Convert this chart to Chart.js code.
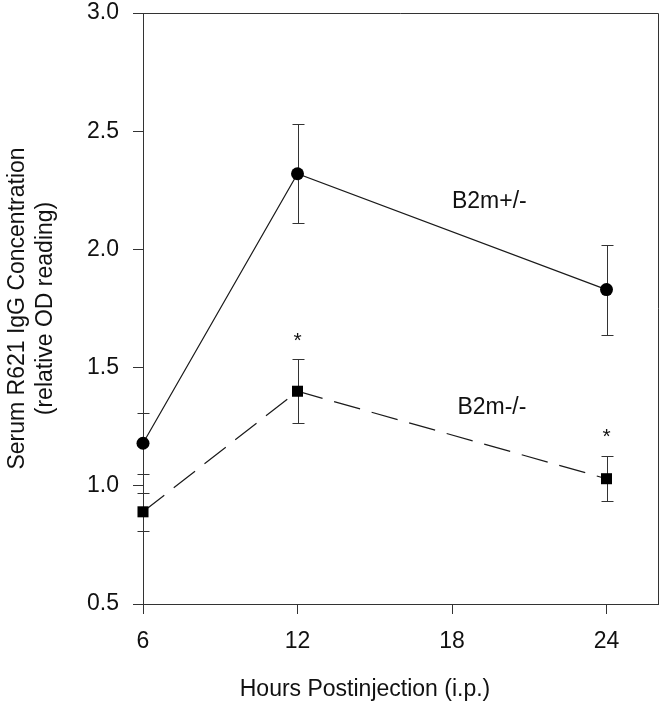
<!DOCTYPE html>
<html>
<head>
<meta charset="utf-8">
<script src="https://cdn.jsdelivr.net/npm/chart.js@4.4.1/dist/chart.umd.min.js"></script>
<style>
  html, body { margin: 0; padding: 0; background: #fff; }
</style>
</head>
<body>
<canvas id="chart" width="666" height="719"></canvas>
<script>
// ── Data ──
const HOURS    = [6, 12, 24];
const HET_MEAN = [1.18, 2.32, 1.83];   // B2m+/-
const HET_ERR  = [0.13, 0.21, 0.19];
const KO_MEAN  = [0.89, 1.40, 1.03];   // B2m-/-
const KO_ERR   = [0.08, 0.135, 0.095];
const X_TICKS  = [6, 12, 18, 24];
const Y_TICKS  = [0.5, 1.0, 1.5, 2.0, 2.5, 3.0];
const STAR_X   = [12, 24];             // significance marks
const STAR_Y   = [1.64, 1.23];

const FONT = "'Liberation Sans', Arial, Helvetica, sans-serif";
const INK = '#1a1a1a';
const X_TITLE = 'Hours Postinjection (i.p.)';

// in-plot series labels (data coords)
const SERIES_NOTES = [
  { text: 'B2m+/-', x: 19.45, y: 2.2 },
  { text: 'B2m-/-', x: 19.55, y: 1.33 },
];

const toPts = ys => HOURS.map((h, i) => ({ x: h, y: ys[i] }));

// ── Error bars, drawn under the markers ──
const errorBars = {
  id: 'errorBars',
  beforeDatasetsDraw(chart) {
    const { ctx, scales: { x, y } } = chart;
    ctx.save();
    ctx.strokeStyle = '#333';
    ctx.lineWidth = 1;
    chart.data.datasets.forEach(ds => {
      ds.data.forEach((p, i) => {
        const e = ds.errs[i];
        const px = Math.round(x.getPixelForValue(p.x)) + 0.5;
        const top = Math.round(y.getPixelForValue(p.y + e)) + 0.5;
        const bot = Math.round(y.getPixelForValue(p.y - e)) + 0.5;
        ctx.beginPath();
        ctx.moveTo(px, top); ctx.lineTo(px, bot);
        ctx.moveTo(px - 6, top); ctx.lineTo(px + 6, top);
        ctx.moveTo(px - 6, bot); ctx.lineTo(px + 6, bot);
        ctx.stroke();
      });
    });
    ctx.restore();
  },
};

// ── Frame (top + right), x title and text annotations ──
const extras = {
  id: 'extras',
  afterDraw(chart) {
    const { ctx, chartArea: a, scales: { x, y } } = chart;
    ctx.save();
    ctx.strokeStyle = '#333';
    ctx.lineWidth = 1;
    ctx.beginPath();
    ctx.moveTo(a.left, a.top + 0.5); ctx.lineTo(a.right + 0.5, a.top + 0.5);
    ctx.lineTo(a.right + 0.5, a.bottom);
    ctx.stroke();

    ctx.fillStyle = '#111';
    ctx.textAlign = 'center';
    ctx.textBaseline = 'alphabetic';
    ctx.font = `21px ${FONT}`;
    STAR_X.forEach((sx, i) => {
      ctx.fillText('*', x.getPixelForValue(sx), y.getPixelForValue(STAR_Y[i]) + 12);
    });

    ctx.textBaseline = 'middle';
    ctx.font = `23px ${FONT}`;
    SERIES_NOTES.forEach(n => {
      ctx.fillText(n.text, x.getPixelForValue(n.x), y.getPixelForValue(n.y));
    });

    // x axis title sits a little left of the plot centre in the original
    ctx.fillText(X_TITLE, 365, 690);
    ctx.restore();
  },
};

new Chart(document.getElementById('chart'), {
  type: 'line',
  data: {
    datasets: [
      {
        label: 'B2m+/-',
        data: toPts(HET_MEAN),
        errs: HET_ERR,
        borderColor: INK,
        borderWidth: 1.2,
        pointStyle: 'circle',
        pointRadius: 6.5,
        pointBackgroundColor: '#000',
        pointBorderWidth: 0,
        clip: false,
      },
      {
        label: 'B2m-/-',
        data: toPts(KO_MEAN),
        errs: KO_ERR,
        borderColor: INK,
        borderWidth: 1.2,
        borderDash: [27, 12],
        pointStyle: 'rect',
        pointRadius: 7.8,
        pointBackgroundColor: '#000',
        pointBorderWidth: 0,
        clip: false,
      },
    ],
  },
  options: {
    responsive: false,
    animation: false,
    devicePixelRatio: 1,
    layout: { padding: { top: 13, right: 8, left: 0, bottom: 0 } },
    plugins: { legend: { display: false }, tooltip: { enabled: false } },
    scales: {
      x: {
        type: 'linear',
        min: 6, max: 26,
        afterBuildTicks: s => { s.ticks = X_TICKS.map(v => ({ value: v })); },
        afterFit: s => { s.height = 115; s.paddingLeft = 0; s.paddingRight = 0; },
        grid: { drawOnChartArea: false, tickLength: 10, color: '#333' },
        border: { color: '#333', width: 1 },
        ticks: { color: '#111', padding: 14, font: { family: FONT, size: 23 } },
      },
      y: {
        type: 'linear',
        min: 0.5, max: 3.0,
        afterBuildTicks: s => { s.ticks = Y_TICKS.map(v => ({ value: v })); },
        afterFit: s => { s.width = 143; s.paddingTop = 0; s.paddingBottom = 0; },
        grid: { drawOnChartArea: false, tickLength: 10, color: '#333' },
        border: { color: '#333', width: 1 },
        ticks: {
          color: '#111', padding: 14,
          font: { family: FONT, size: 23 },
          callback: v => v.toFixed(1),
        },
        title: {
          display: true,
          text: ['Serum R621 IgG Concentration', '(relative OD reading)'],
          color: '#111',
          font: { family: FONT, size: 23 },
          padding: { top: 4 },
        },
      },
    },
  },
  plugins: [errorBars, extras],
});
</script>
</body>
</html>
